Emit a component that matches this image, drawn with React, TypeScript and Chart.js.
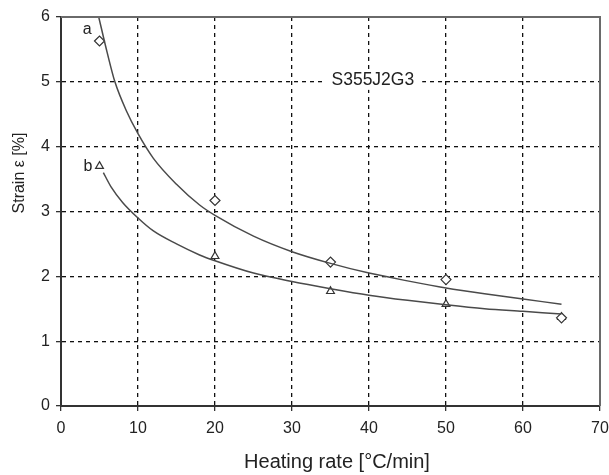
import React, { useEffect, useRef } from 'react';
import { Chart, registerables } from 'chart.js';

Chart.register(...registerables);

// Measured points
const rateA = [5, 20, 35, 50, 65];
const strainA = [5.63, 3.17, 2.22, 1.95, 1.36];
const rateB = [5, 20, 35, 50, 65];
const strainB = [3.7, 2.31, 1.77, 1.57, 1.37];

// Fitted curves
const fitAx = [4.9, 6, 7, 8.5, 10, 12, 15, 18, 20, 25, 30, 35, 40, 45, 50, 55, 60, 65];
const fitAy = [6, 5.45, 5.0, 4.55, 4.2, 3.82, 3.42, 3.1, 2.94, 2.62, 2.38, 2.2, 2.05, 1.93, 1.82, 1.73, 1.65, 1.57];
const fitBx = [5.5, 6.5, 8, 10, 12, 15, 18, 20, 25, 30, 35, 40, 45, 50, 55, 60, 65];
const fitBy = [3.6, 3.38, 3.14, 2.9, 2.7, 2.5, 2.33, 2.24, 2.05, 1.92, 1.81, 1.71, 1.63, 1.56, 1.5, 1.46, 1.42];

const xTickValues = [0, 10, 20, 30, 40, 50, 60, 70];

// Labels
const labelA = { text: 'a', x: 3.4, y: 5.8 };
const labelB = { text: 'b', x: 3.5, y: 3.69 };
const labelSteel = { text: 'S355J2G3', x: 40.5, y: 5.03 };
const xTitle = 'Heating rate [°C/min]';
const yTitle = 'Strain ε [%]';

const FONT = "'Liberation Sans', Arial, sans-serif";

const toXY = (xs: number[], ys: number[]) => xs.map((x, i) => ({ x, y: ys[i] }));

export default function App() {
  const ref = useRef<HTMLCanvasElement | null>(null);

  useEffect(() => {
    if (!ref.current) return;

    const bgText = {
      id: 'bgText',
      beforeDatasetsDraw(chart: any) {
        const { ctx, scales } = chart;
        ctx.save();
        ctx.font = `17.5px ${FONT}`;
        const w = ctx.measureText(labelSteel.text).width;
        const cx = scales.x.getPixelForValue(labelSteel.x);
        const cy = scales.y.getPixelForValue(labelSteel.y);
        ctx.fillStyle = '#fff';
        ctx.fillRect(cx - w / 2 - 8, cy - 10, w + 16, 20);
        ctx.restore();
      },
    };

    const annot = {
      id: 'annot',
      afterDraw(chart: any) {
        const { ctx, scales, chartArea } = chart;
        const xs = scales.x, ys = scales.y;
        ctx.save();
        // frame top/right
        ctx.strokeStyle = '#6a6a6a';
        ctx.lineWidth = 2;
        ctx.beginPath();
        ctx.moveTo(chartArea.left, chartArea.top);
        ctx.lineTo(chartArea.right, chartArea.top);
        ctx.lineTo(chartArea.right, chartArea.bottom);
        ctx.stroke();
        ctx.fillStyle = '#222';
        ctx.textAlign = 'center';
        ctx.textBaseline = 'middle';
        ctx.font = `16px ${FONT}`;
        for (const l of [labelA, labelB]) {
          ctx.fillText(l.text, xs.getPixelForValue(l.x), ys.getPixelForValue(l.y));
        }
        ctx.font = `17.5px ${FONT}`;
        ctx.fillText(labelSteel.text, xs.getPixelForValue(labelSteel.x), ys.getPixelForValue(labelSteel.y));
        // x title
        ctx.font = `20px ${FONT}`;
        ctx.fillText(xTitle, 337, 462);
        // y title
        ctx.translate(20, 173);
        ctx.rotate(-Math.PI / 2);
        ctx.font = `16px ${FONT}`;
        ctx.fillText(yTitle, 0, 0);
        ctx.restore();
      },
    };

    const lineColor = '#4a4a4a';
    const chart = new Chart(ref.current, {
      type: 'scatter',
      data: {
        datasets: [
          {
            label: 'fit a',
            data: toXY(fitAx, fitAy),
            showLine: true,
            borderColor: lineColor,
            borderWidth: 1.5,
            pointRadius: 0,
            cubicInterpolationMode: 'monotone',
          },
          {
            label: 'fit b',
            data: toXY(fitBx, fitBy),
            showLine: true,
            borderColor: lineColor,
            borderWidth: 1.5,
            pointRadius: 0,
            cubicInterpolationMode: 'monotone',
          },
          {
            label: 'a',
            data: toXY(rateA, strainA),
            pointStyle: 'rectRot',
            pointRadius: 5,
            borderColor: '#333',
            backgroundColor: '#fff',
            borderWidth: 1.2,
          },
          {
            label: 'b',
            data: toXY(rateB, strainB),
            pointStyle: 'triangle',
            pointRadius: 4.5,
            borderColor: '#333',
            backgroundColor: '#fff',
            borderWidth: 1.2,
          },
        ],
      } as any,
      options: {
        animation: false,
        responsive: false,
        layout: { padding: { top: 17, right: 9, left: 0, bottom: 0 } },
        plugins: { legend: { display: false }, tooltip: { enabled: false } },
        scales: {
          x: {
            type: 'linear',
            min: 0,
            max: 70,
            afterFit: (s: any) => { s.height = 69; s.paddingLeft = 0; s.paddingRight = 0; },
            afterBuildTicks: (s: any) => { s.ticks = xTickValues.map((v) => ({ value: v })); },
            ticks: { color: '#222', font: { family: FONT, size: 16 }, padding: 8 },
            grid: {
              color: (c: any) => (c.tick && (c.tick.value === 70 || c.tick.value === 0) ? 'rgba(0,0,0,0)' : '#111'),
              lineWidth: 1.3,
              tickLength: 5,
              tickColor: '#333',
            },
            border: { display: true, color: '#333', width: 2, dash: [4, 4] },
          },
          y: {
            type: 'linear',
            min: 0,
            max: 6,
            afterFit: (s: any) => { s.width = 61; s.paddingTop = 0; s.paddingBottom = 0; },
            ticks: { stepSize: 1, color: '#222', font: { family: FONT, size: 16 }, padding: 6 },
            grid: {
              color: (c: any) => (c.tick && (c.tick.value === 6 || c.tick.value === 0) ? 'rgba(0,0,0,0)' : '#111'),
              lineWidth: 1.3,
              tickLength: 5,
              tickColor: '#333',
            },
            border: { display: true, color: '#333', width: 2, dash: [4, 4] },
          },
        },
      } as any,
      plugins: [bgText, annot],
    });
    return () => chart.destroy();
  }, []);

  return (
    <div style={{ position: 'absolute', left: 0, top: 0, width: 609, height: 475, background: '#fff' }}>
      <canvas ref={ref} width={609} height={475} />
    </div>
  );
}
